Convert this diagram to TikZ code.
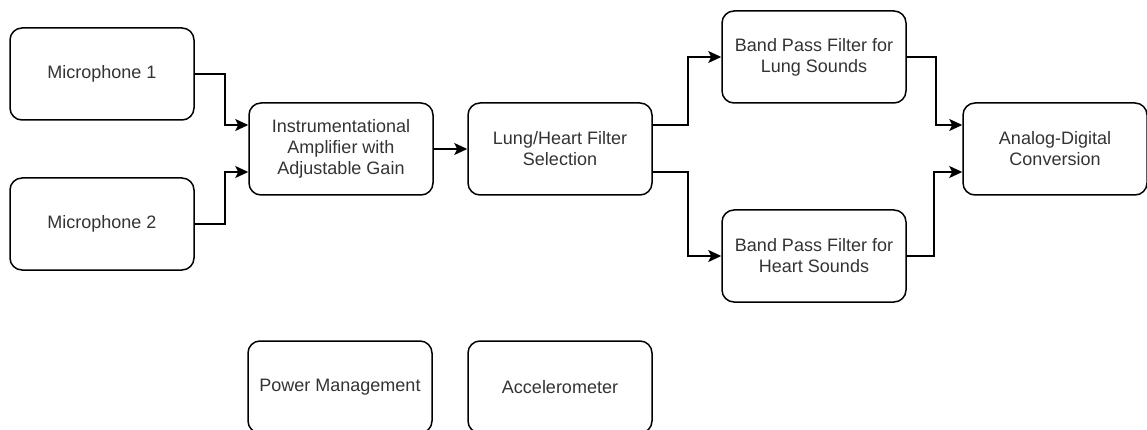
\documentclass[tikz,border=0pt]{standalone}
\usepackage{fontspec}
\setmainfont{Liberation Sans}
\usepackage{tikz}
\usetikzlibrary{arrows.meta,positioning,calc}

\begin{document}
\begin{tikzpicture}[x=1pt, y=-1pt, >={Stealth[length=13pt,width=12pt,inset=3pt]},
    block/.style={draw, line width=1.5pt, rounded corners=12pt, minimum width=184pt,
        minimum height=92pt, align=center, text=black!80,
        font=\fontsize{18}{21}\selectfont},
    link/.style={->, line width=1.5pt}]
    \useasboundingbox (0,0) rectangle (1147,430);

    \node[block] (mic1) at (102,74) {Microphone 1};
    \node[block] (mic2) at (102,224) {Microphone 2};
    \node[block] (amp) at (341,149) {Instrumentational\\Amplifier with\\Adjustable Gain};
    \node[block] (sel) at (560,149) {Lung/Heart Filter\\Selection};
    \node[block] (bpflung) at (814,57) {Band Pass Filter for\\Lung Sounds};
    \node[block] (bpfheart) at (814,256) {Band Pass Filter for\\Heart Sounds};
    \node[block] (adc) at (1055,149) {Analog-Digital\\Conversion};
    \node[block] (power) at (340,387) {Power Management};
    \node[block] (accel) at (560,387) {Accelerometer};

    \draw[link] (mic1.east) -- ++(30,0) |- ([yshift=24pt]amp.west);
    \draw[link] (mic2.east) -- ++(30,0) |- ([yshift=-23pt]amp.west);
    \draw[link] (amp) -- (sel);
    \draw[link] ([yshift=24pt]sel.east) -- ++(35,0) |- (bpflung.west);
    \draw[link] ([yshift=-23pt]sel.east) -- ++(35,0) |- (bpfheart.west);
    \draw[link] (bpflung.east) -- ++(29,0) |- ([yshift=24pt]adc.west);
    \draw[link] (bpfheart.east) -- ++(27,0) |- ([yshift=-23pt]adc.west);
\end{tikzpicture}
\end{document}
